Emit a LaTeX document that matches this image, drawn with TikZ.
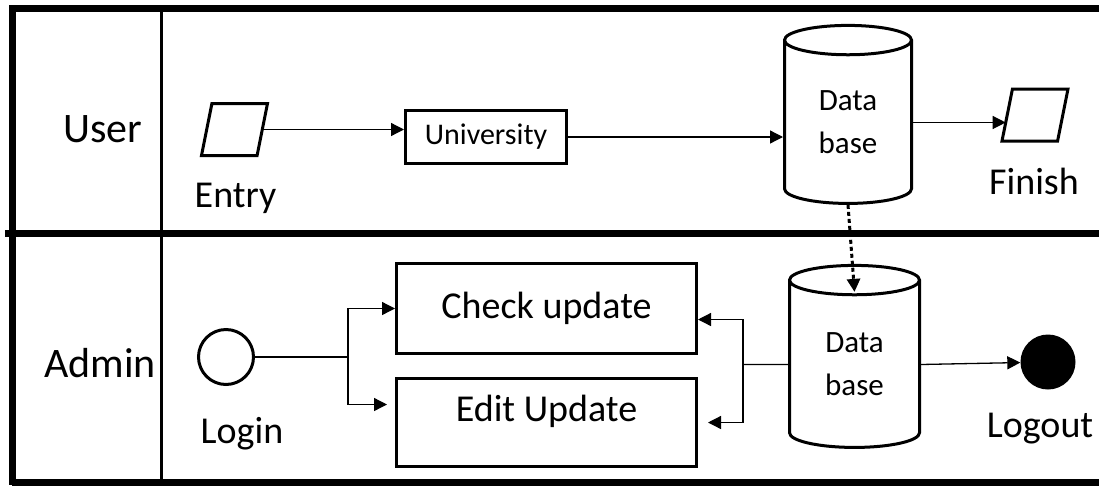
\documentclass[tikz,border=0pt]{standalone}
\usepackage{fontspec}
\setmainfont{Carlito}
\usetikzlibrary{shapes.geometric, arrows.meta}

\tikzset{
    lane/.style={line width=7pt},
    io/.style={draw, trapezium, trapezium left angle=77, trapezium right angle=103, trapezium stretches=true, line width=3pt, minimum height=52pt, minimum width=66pt, inner sep=2pt},
    box/.style={draw, rectangle, line width=3pt, inner sep=0pt},
    db/.style={draw, cylinder, shape border rotate=90, aspect=0.5, minimum width=127pt, minimum height=178pt, line width=3pt, inner sep=0pt, align=center, font=\fontsize{31}{43}\selectfont},
    flow/.style={-{Triangle[length=13pt,width=13pt]}, line width=1.3pt},
    lanetxt/.style={anchor=base, font=\fontsize{42}{44}\selectfont}
}

\begin{document}
\begin{tikzpicture}[x=1pt, y=-1pt, font=\fontsize{38}{40}\selectfont]
    \useasboundingbox (0,0) rectangle (1099,485);

    % swimlanes
    \draw[lane] (1099,8) -- (12,8) -- (12,485);
    \draw[lane] (5,233) -- (1099,233);
    \draw[lane] (12,482) -- (1099,482);
    \draw[line width=3pt] (161,8) -- (161,485);
    \node (user) [lanetxt] at (103,142) {User};
    \node (admin) [lanetxt] at (100,377) {Admin};

    % user lane
    \node (entry) [io] at (234.5,129.5) {};
    \node (entrylbl) [anchor=base] at (235.5,207) {Entry};
    \node (uni) [box, minimum width=161pt, minimum height=53pt, font=\fontsize{30}{32}\selectfont] at (486,137) {University};
    \node (db1) [db] at (848,122.5) {Data\\base};
    \node (fin) [io] at (1035,115) {};
    \node (finlbl) [anchor=base] at (1034,194) {Finish};

    \draw[flow] (entry.east) -- (entry.east -| uni.west);
    \draw[flow] (uni.east) -- (uni.east -| db1.west);
    \draw[flow] (db1.east) -- (db1.east -| fin.west);

    % admin lane
    \node (login) [draw, circle, line width=3pt, minimum size=55pt, inner sep=0pt] at (226,357) {};
    \node (loginlbl) [anchor=base] at (242,443) {Login};
    \node (check) [box, minimum width=300pt, minimum height=90pt] at (546.5,308.5) {Check update};
    \node (edit) [box, minimum width=300pt, minimum height=88pt, text height=28pt, text depth=30pt] at (546.5,422.5) {Edit Update};
    \node (db2) [db, minimum width=130pt, minimum height=182pt] at (854.5,364.5) {Data\\base};
    \node (logout) [circle, fill=black, minimum size=55pt, inner sep=0pt] at (1048,362) {};
    \node (logoutlbl) [anchor=base] at (1040,437) {Logout};

    \coordinate (split) at (348,357);
    \coordinate (merge) at (743,364.5);

    \draw[line width=1.3pt] (login.east) -- (split);
    \draw[flow] (split) |- (check.west);
    \draw[flow, shorten >=8pt] (split) |- ([yshift=18pt]edit.west);
    \draw[line width=1.3pt] (db2.west) -- (merge);
    \draw[flow] (merge) |- ([yshift=-11pt]check.east);
    \draw[flow, shorten >=10pt] (merge) |- (edit.east);
    \draw[flow] (db2.east) -- (logout);

    % link between the two data bases
    \draw[-{Triangle[length=13pt,width=13pt]}, line width=3pt, dash pattern=on 4pt off 3pt] (db1.south) -- ([yshift=-28pt]db2.north);
\end{tikzpicture}
\end{document}
